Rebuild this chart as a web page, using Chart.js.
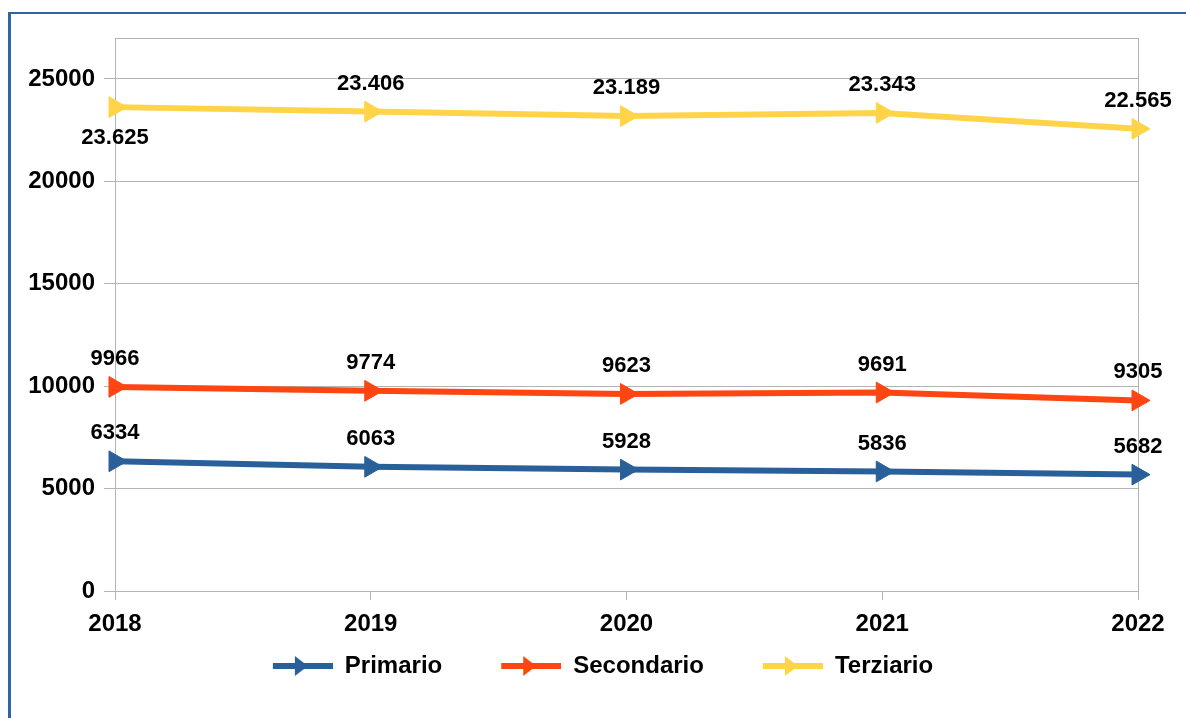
<!DOCTYPE html>
<html>
<head>
<meta charset="utf-8">
<script src="https://cdn.jsdelivr.net/npm/chart.js@4.4.0/dist/chart.umd.min.js"></script>
<style>
  html, body { margin: 0; padding: 0; background: #fff; }
  #wrap { position: relative; width: 1186px; height: 718px; overflow: hidden; }
  #frame { position: absolute; left: 8px; top: 12px; width: 1200px; height: 720px;
           border-top: 2px solid #2f65a3; border-left: 3px solid #2f65a3; }
  canvas { position: absolute; left: 0; top: 0; }
</style>
</head>
<body>
<div id="wrap">
  <div id="frame"></div>
  <canvas id="myChart" width="1186" height="718"></canvas>
</div>
<script>
// Chart data
var years = ['2018', '2019', '2020', '2021', '2022'];
var primario = [6334, 6063, 5928, 5836, 5682];
var secondario = [9966, 9774, 9623, 9691, 9305];
var terziario = [23625, 23406, 23189, 23343, 22565];
var seriesNames = ['Primario', 'Secondario', 'Terziario'];
var seriesColors = ['#2a6099', '#ff4511', '#ffd448'];
var yTicks = [0, 5000, 10000, 15000, 20000, 25000];
var yMax = 27000;

// Format like the source: dot as thousands separator only from 10000 up
function fmt(v) {
  var s = String(v);
  if (v >= 10000) {
    s = s.slice(0, s.length - 3) + '.' + s.slice(s.length - 3);
  }
  return s;
}

// Line-with-arrow icon for the legend (transparent gap on the left spaces the items)
var ICON_GAP = 44;
function legendIcon(color) {
  var c = document.createElement('canvas');
  c.width = ICON_GAP + 60;
  c.height = 22;
  var g = c.getContext('2d');
  g.fillStyle = color;
  g.fillRect(ICON_GAP, 8, 60, 6);
  g.beginPath();
  g.moveTo(ICON_GAP + 22, 1);
  g.lineTo(ICON_GAP + 35, 11);
  g.lineTo(ICON_GAP + 22, 21);
  g.closePath();
  g.fill();
  return c;
}

// Value labels over each point
var valueLabels = {
  id: 'valueLabels',
  afterDatasetsDraw: function(chart) {
    var ctx = chart.ctx;
    ctx.save();
    ctx.font = 'bold 22px "Liberation Sans", Arial, sans-serif';
    ctx.fillStyle = '#000';
    ctx.textAlign = 'center';
    ctx.textBaseline = 'middle';
    chart.data.datasets.forEach(function(ds, i) {
      chart.getDatasetMeta(i).data.forEach(function(pt, j) {
        var below = (i === 2 && j === 0);
        ctx.fillText(fmt(ds.data[j]), pt.x, below ? pt.y + 31 : pt.y - 28);
      });
    });
    ctx.restore();
  }
};

function makeDataset(label, data, color) {
  return {
    label: label,
    data: data,
    borderColor: color,
    backgroundColor: color,
    borderWidth: 6,
    tension: 0,
    pointStyle: 'triangle',
    rotation: 90,
    pointRadius: 12,
    pointBorderWidth: 1,
    pointBorderColor: color,
    pointBackgroundColor: color,
    clip: false
  };
}

var font24 = { family: '"Liberation Sans", Arial, sans-serif', size: 24, weight: 'bold' };

var ctx = document.getElementById('myChart').getContext('2d');
var myChart = new Chart(ctx, {
  type: 'line',
  data: {
    labels: years,
    datasets: [
      makeDataset(seriesNames[0], primario, seriesColors[0]),
      makeDataset(seriesNames[1], secondario, seriesColors[1]),
      makeDataset(seriesNames[2], terziario, seriesColors[2])
    ]
  },
  plugins: [valueLabels],
  options: {
    responsive: false,
    animation: false,
    devicePixelRatio: 1,
    layout: { padding: { left: 24, right: 48, top: 38, bottom: 35 } },
    plugins: {
      tooltip: { enabled: false },
      legend: {
        position: 'bottom',
        maxHeight: 44,
        labels: {
          usePointStyle: true,
          pointStyleWidth: ICON_GAP + 60,
          padding: 15,
          color: '#000',
          font: font24,
          generateLabels: function(chart) {
            return chart.data.datasets.map(function(ds, i) {
              return {
                text: ds.label,
                pointStyle: legendIcon(ds.borderColor),
                rotation: 0,
                fillStyle: ds.borderColor,
                strokeStyle: ds.borderColor,
                lineWidth: 0,
                hidden: false,
                fontColor: '#000',
                datasetIndex: i
              };
            });
          }
        }
      }
    },
    scales: {
      x: {
        type: 'category',
        offset: false,
        afterFit: function(scale) { scale.height = 48; },
        grid: {
          color: function(c) { return c.index === years.length - 1 ? '#b3b3b3' : 'rgba(0,0,0,0)'; },
          tickColor: '#b3b3b3',
          tickLength: 9
        },
        border: { color: '#b3b3b3' },
        ticks: { color: '#000', font: font24, padding: 10, maxRotation: 0, autoSkip: false }
      },
      y: {
        min: 0,
        max: yMax,
        afterFit: function(scale) { scale.width = 91; },
        afterBuildTicks: function(scale) {
          scale.ticks = yTicks.concat([yMax]).map(function(v) { return { value: v }; });
        },
        grid: {
          color: '#b3b3b3',
          tickLength: 11,
          tickColor: function(c) { return (c.tick && yTicks.indexOf(c.tick.value) < 0) ? 'rgba(0,0,0,0)' : '#b3b3b3'; }
        },
        border: { color: '#b3b3b3' },
        ticks: {
          color: '#000',
          font: font24,
          padding: 9,
          callback: function(v) { return yTicks.indexOf(v) < 0 ? '' : String(v); }
        }
      }
    }
  }
});
</script>
</body>
</html>
